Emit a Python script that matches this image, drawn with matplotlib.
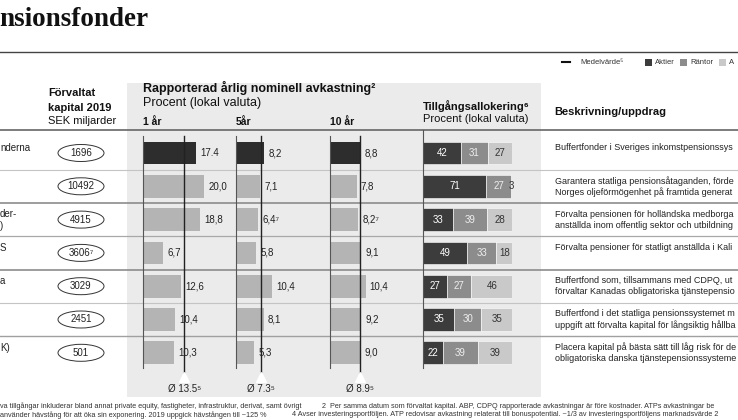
import matplotlib
matplotlib.use("Agg")
import matplotlib.pyplot as plt
from matplotlib.patches import Ellipse, Rectangle

plt.rcParams['font.family'] = ['Liberation Sans', 'DejaVu Sans']

# ---------------- data ----------------
capital = ["1696", "10492", "4915", "3606⁷", "3029", "2451", "501"]
ret_1y = [17.4, 20.0, 18.8, 6.7, 12.6, 10.4, 10.3]
lbl_1y = ["17.4", "20,0", "18,8", "6,7", "12,6", "10,4", "10,3"]
ret_5y = [8.2, 7.1, 6.4, 5.8, 10.4, 8.1, 5.3]
lbl_5y = ["8,2", "7,1", "6,4⁷", "5,8", "10,4", "8,1", "5,3"]
ret_10y = [8.8, 7.8, 8.2, 9.1, 10.4, 9.2, 9.0]
lbl_10y = ["8,8", "7,8", "8,2⁷", "9,1", "10,4", "9,2", "9,0"]
mean_vals = [13.5, 7.3, 8.9]
mean_lbls = ["Ø 13.5⁵", "Ø 7.3⁵", "Ø 8.9⁵"]
aktier = [42, 71, 33, 49, 27, 35, 22]
rantor = [31, 27, 39, 33, 27, 30, 39]
alternativa = [27, 3, 28, 18, 46, 35, 39]
descriptions = [
    "Buffertfonder i Sveriges inkomstpensionssys",
    "Garantera statliga pensionsåtaganden, förde\nNorges oljeförmögenhet på framtida generat",
    "Förvalta pensionen för holländska medborga\nanställda inom offentlig sektor och utbildning",
    "Förvalta pensioner för statligt anställda i Kali",
    "Buffertfond som, tillsammans med CDPQ, ut\nförvaltar Kanadas obligatoriska tjänstepensio",
    "Buffertfond i det statliga pensionssystemet m\nuppgift att förvalta kapital för långsiktig hållba",
    "Placera kapital på bästa sätt till låg risk för de\nobligatoriska danska tjänstepensionssysteme",
]
name_fragments = ["nderna", "", "der-\n)", "S", "a", "", "K)"]

# ---------------- layout ----------------
W, H = 738, 420
ROW0, ROWH = 153.0, 33.3
NROW = 7

fig = plt.figure(figsize=(W / 100, H / 100), dpi=100)
bg = fig.add_axes([0, 0, 1, 1])
bg.set_xlim(0, W)
bg.set_ylim(H, 0)
bg.axis('off')

def row_y(i):
    return ROW0 + ROWH * i

def px_axes(x0, x1, xlim):
    y_top = row_y(-0.5)
    y_bot = row_y(NROW - 0.5)
    ax = fig.add_axes([x0 / W, 1 - y_bot / H, (x1 - x0) / W, (y_bot - y_top) / H])
    ax.set_xlim(*xlim)
    ax.set_ylim(NROW - 0.5, -0.5)
    ax.axis('off')
    ax.patch.set_alpha(0)
    return ax

# panel
bg.add_patch(Rectangle((127, 83), 541 - 127, 397 - 83, color='#ebebeb', zorder=0, lw=0))

# title
bg.text(-1, 20, "nsionsfonder", family=['Liberation Serif', 'DejaVu Serif'],
        weight='bold', fontsize=19.5, va='center', ha='left', color='#111')

# rules
bg.plot([0, W], [51.5, 51.5], color='#444', lw=1.0)
bg.plot([0, W], [130, 130], color='#666', lw=1.2)
sep_style = [('#c4c4c4', 0.8), ('#8c8c8c', 1.2), ('#a8a8a8', 0.9),
             ('#8c8c8c', 1.2), ('#c4c4c4', 0.8), ('#a0a0a0', 1.0)]
for i, (c, lw) in enumerate(sep_style):
    y = row_y(i + 0.5)
    bg.plot([0, W], [y, y], color=c, lw=lw, zorder=1)

# legend
bg.plot([562, 570], [62, 62], color='#111', lw=1.5)
bg.text(580, 62, "Medelvärde⁵", fontsize=5.5, va='center', color='#333')
for x, col, lab in [(645, '#3c3c3c', 'Aktier'), (680, '#8c8c8c', 'Räntor'), (719, '#c9c9c9', 'A')]:
    bg.add_patch(Rectangle((x, 58.5), 7, 7, color=col, lw=0))
    bg.text(x + 10, 62, lab, fontsize=5.5, va='center', color='#333')

# headers
bg.text(48, 93, "Förvaltat", fontsize=8, weight='bold', va='center', color='#111')
bg.text(48, 108, "kapital 2019", fontsize=8, weight='bold', va='center', color='#111')
bg.text(48, 121, "SEK miljarder", fontsize=8, va='center', color='#111')
bg.text(143, 88, "Rapporterad årlig nominell avkastning²", fontsize=9, weight='bold', va='center', color='#111')
bg.text(143, 103, "Procent (lokal valuta)", fontsize=9, va='center', color='#111')
bg.text(143, 122, "1 år", fontsize=7.5, weight='bold', va='center', color='#111')
bg.text(236, 122, "5år", fontsize=7.5, weight='bold', va='center', color='#111')
bg.text(330, 122, "10 år", fontsize=7.5, weight='bold', va='center', color='#111')
bg.text(423, 106, "Tillgångsallokering⁶", fontsize=8, weight='bold', va='center', color='#111')
bg.text(423, 119, "Procent (lokal valuta)", fontsize=8, va='center', color='#111')
bg.text(554, 112, "Beskrivning/uppdrag", fontsize=8, weight='bold', va='center', color='#111')

# left names, capital ovals, descriptions
for i in range(NROW):
    c = row_y(i)
    frag = name_fragments[i]
    if frag:
        lines = frag.split("\n")
        for k, ln in enumerate(lines):
            yy = c - 6 + 12 * k if len(lines) > 1 else c - 5
            bg.text(0, yy, ln, fontsize=7, va='center', ha='left', color='#222')
    bg.add_patch(Ellipse((81, c), 46, 17, fill=False, ec='#333', lw=0.7))
    bg.text(81, c, capital[i], fontsize=7, ha='center', va='center', color='#222')
    dl = descriptions[i].split("\n")
    for k, ln in enumerate(dl):
        yy = c - 5.5 + 11 * k
        bg.text(555, yy, ln, fontsize=6.5, va='center', ha='left', color='#222')

# return bar columns
bar_colors = ['#2d2d2d'] + ['#b4b4b4'] * (NROW - 1)
cols = [
    (143.0, 3.05, 30, ret_1y, lbl_1y),
    (236.3, 3.40, 27, ret_5y, lbl_5y),
    (330.0, 3.42, 27, ret_10y, lbl_10y),
]
for (x0, scale, xmax, vals, lbls), mv, ml in zip(cols, mean_vals, mean_lbls):
    ax = px_axes(x0, x0 + xmax * scale, (0, xmax))
    ax.barh(range(NROW), vals, height=0.68, color=bar_colors, lw=0, zorder=2)
    ax.plot([0, 0], [-0.5, 6.45], color='#555', lw=0.8, clip_on=False, zorder=3)
    ax.plot([mv, mv], [-0.5, 6.6], color='#222', lw=1.0, clip_on=False, zorder=4)
    ax.plot(mv, 6.74, marker='^', ms=6.5, mfc='white', mec='white', clip_on=False, zorder=4)
    ax.text(mv, 7.08, ml, fontsize=7, ha='center', va='center', color='#222', clip_on=False)
    for i, (v, l) in enumerate(zip(vals, lbls)):
        ax.annotate(l, (v, i), xytext=(3, 0), textcoords='offset points',
                    fontsize=7, va='center', ha='left', color='#222', zorder=5)

# allocation column
ax = px_axes(423.3, 423.3 + 89, (0, 100))
left = [0] * NROW
seg_colors = ['#3c3c3c', '#8c8c8c', '#c9c9c9']
txt_colors = ['white', '#eeeeee', '#333333']
for vals, sc, tc in zip([aktier, rantor, alternativa], seg_colors, txt_colors):
    ax.barh(range(NROW), vals, left=left, height=0.68, color=sc, edgecolor='white', lw=0.4, zorder=2)
    for i, v in enumerate(vals):
        ax.text(left[i] + v / 2, i, str(v), fontsize=7, ha='center', va='center', color=tc, zorder=5)
    left = [a + b for a, b in zip(left, vals)]
ax.plot([0, 0], [-0.7, 6.45], color='#555', lw=0.8, clip_on=False, zorder=3)

# footnotes
fn = dict(fontsize=5.2, va='center', ha='left', color='#333')
bg.text(0, 406, "va tillgångar inkluderar bland annat private equity, fastigheter, infrastruktur, derivat, samt övrigt", **fn)
bg.text(322, 406, "2  Per samma datum som förvaltat kapital. ABP, CDPQ rapporterade avkastningar är före kostnader. ATPs avkastningar be", **fn)
bg.text(0, 415, "använder hävstång för att öka sin exponering. 2019 uppgick hävstången till ~125 %", **fn)
bg.text(292, 415, "4 Avser investeringsportföljen. ATP redovisar avkastning relaterat till bonuspotential. ~1/3 av investeringsportföljens marknadsvärde 2", **fn)

fig.savefig("out.png", dpi=100)
